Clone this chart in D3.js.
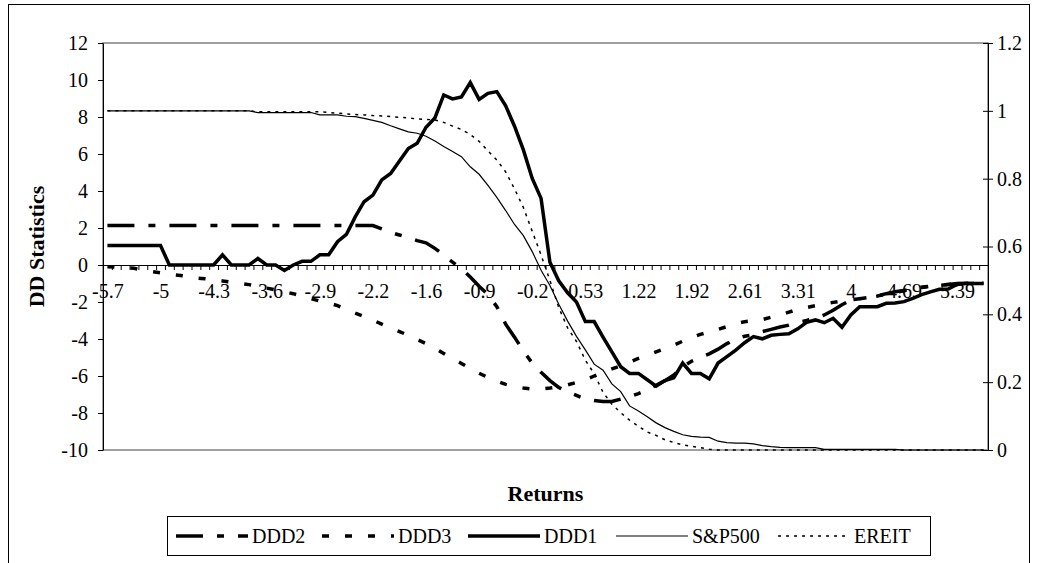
<!DOCTYPE html>
<html><head><meta charset="utf-8">
<script src="https://cdn.jsdelivr.net/npm/d3@7"></script>
<style>body{margin:0;background:#fff;}</style>
</head><body>
<script>
// ---------- DATA ----------
const returns = [-5.70,-5.58,-5.47,-5.35,-5.24,-5.12,-5.01,-4.89,-4.78,-4.66,-4.54,-4.43,-4.31,-4.20,-4.08,-3.97,-3.85,-3.74,-3.62,-3.51,
-3.39,-3.27,-3.16,-3.04,-2.93,-2.81,-2.70,-2.58,-2.47,-2.35,-2.23,-2.12,-2.00,-1.89,-1.77,-1.66,-1.54,-1.43,-1.31,-1.20,
-1.08,-0.96,-0.85,-0.73,-0.62,-0.50,-0.39,-0.27,-0.16,-0.04,0.08,0.19,0.31,0.42,0.53,0.65,0.77,0.88,1.00,1.11,
1.22,1.34,1.46,1.57,1.69,1.80,1.92,2.04,2.15,2.27,2.38,2.50,2.61,2.73,2.84,2.96,3.08,3.19,3.31,3.42,
3.54,3.65,3.77,3.88,4.00,4.11,4.23,4.35,4.46,4.58,4.69,4.81,4.92,5.04,5.15,5.27,5.39,5.50,5.62,5.73];
const xTickLabels = ["-5.7","-5","-4.3","-3.6","-2.9","-2.2","-1.6","-0.9","-0.2","0.53","1.22","1.92","2.61","3.31","4","4.69","5.39"];
const xTickEvery = 6;
const leftTicks = [-10,-8,-6,-4,-2,0,2,4,6,8,10,12];
const rightTicks = [0,0.2,0.4,0.6,0.8,1,1.2];

// DD statistics (left axis)
const DDD1 = [1.05,1.05,1.05,1.05,1.05,1.05,1.05,0,0,0,0,0,0,0.55,0,0,0,0.35,0,0,
-0.3,0,0.2,0.2,0.55,0.55,1.26,1.65,2.6,3.42,3.78,4.6,4.95,5.62,6.3,6.58,7.45,7.95,9.19,8.98,
9.08,9.86,8.95,9.28,9.37,8.6,7.5,6.22,4.68,3.6,0.15,-0.85,-1.5,-2.0,-3.06,-3.06,-3.9,-4.7,-5.5,-5.86,
-5.86,-6.2,-6.55,-6.25,-6.1,-5.3,-5.86,-5.86,-6.15,-5.3,-4.95,-4.6,-4.2,-3.87,-3.99,-3.8,-3.75,-3.72,-3.45,-3.1,
-2.97,-3.12,-2.88,-3.37,-2.7,-2.25,-2.25,-2.25,-2.07,-2.05,-1.98,-1.8,-1.6,-1.45,-1.31,-1.3,-1.05,-1.0,-1.0,-1.0];
const DDD2 = [2.13,2.13,2.13,2.13,2.13,2.13,2.13,2.13,2.13,2.13,2.13,2.13,2.13,2.13,2.13,2.13,2.13,2.13,2.13,2.13,
2.13,2.13,2.13,2.13,2.13,2.13,2.13,2.13,2.13,2.13,2.13,1.95,1.76,1.62,1.48,1.32,1.2,0.9,0.55,0.15,
-0.2,-0.65,-1.15,-1.6,-2.25,-3.2,-3.9,-4.65,-5.3,-5.8,-6.25,-6.62,-6.85,-7.05,-7.25,-7.32,-7.38,-7.38,-7.25,-7.12,
-6.95,-6.75,-6.5,-6.25,-5.95,-5.5,-5.2,-5.0,-4.8,-4.55,-4.25,-4.0,-3.85,-3.78,-3.6,-3.48,-3.35,-3.25,-3.1,-3.0,
-2.88,-2.7,-2.45,-2.15,-1.9,-1.82,-1.75,-1.68,-1.55,-1.45,-1.38,-1.3,-1.2,-1.15,-1.1,-1.05,-1.0,-0.99,-0.98,-0.98];
const DDD3 = [-0.09,-0.12,-0.15,-0.18,-0.27,-0.35,-0.42,-0.5,-0.55,-0.62,-0.7,-0.74,-0.8,-0.86,-0.93,-1.0,-1.06,-1.15,-1.25,-1.35,
-1.45,-1.55,-1.68,-1.82,-1.95,-2.05,-2.2,-2.4,-2.6,-2.78,-2.98,-3.2,-3.4,-3.6,-3.8,-4.03,-4.25,-4.5,-4.78,-5.05,
-5.32,-5.6,-5.85,-6.08,-6.28,-6.45,-6.58,-6.65,-6.7,-6.7,-6.65,-6.58,-6.48,-6.35,-6.2,-6.0,-5.8,-5.62,-5.45,-5.25,
-5.05,-4.88,-4.7,-4.52,-4.33,-4.12,-3.92,-3.75,-3.62,-3.48,-3.33,-3.17,-3.07,-3.0,-2.95,-2.82,-2.7,-2.55,-2.4,-2.3,
-2.2,-2.08,-2.02,-1.95,-1.89,-1.82,-1.75,-1.68,-1.58,-1.48,-1.4,-1.3,-1.22,-1.15,-1.08,-1.05,-1.02,-1.0,-1.0,-1.0];
// cumulative distributions (right axis)
const SP500 = [1,1,1,1,1,1,1,1,1,1,1,1,1,1,1,1,1,0.995,0.995,0.995,
0.995,0.995,0.995,0.995,0.988,0.988,0.988,0.984,0.983,0.978,0.972,0.966,0.956,0.947,0.938,0.934,0.925,0.911,0.895,0.88,
0.865,0.835,0.813,0.78,0.745,0.706,0.665,0.632,0.585,0.53,0.485,0.43,0.38,0.335,0.295,0.253,0.235,0.195,0.172,0.13,
0.115,0.098,0.08,0.066,0.055,0.045,0.04,0.038,0.037,0.026,0.022,0.02,0.02,0.018,0.013,0.01,0.008,0.007,0.007,0.007,
0.007,0.002,0.002,0.002,0.002,0.002,0.002,0.002,0.002,0.002,0,0,0,0,0,0,0,0,0,0];
const EREIT = [1,1,1,1,1,1,1,1,1,1,1,1,1,1,1,1,1,0.997,0.997,0.997,
0.997,0.997,0.997,0.997,0.997,0.995,0.993,0.991,0.989,0.988,0.986,0.985,0.983,0.981,0.979,0.976,0.975,0.973,0.966,0.955,
0.945,0.93,0.91,0.882,0.855,0.82,0.77,0.715,0.645,0.575,0.5,0.42,0.36,0.32,0.265,0.225,0.17,0.135,0.11,0.088,
0.07,0.053,0.043,0.03,0.022,0.015,0.011,0.007,0.002,0,0,0,0,0,0,0,0,0,0,0,
0,0,0,0,0,0,0,0,0,0,0,0,0,0,0,0,0,0,0,0];

const seriesNames = ["DDD2","DDD3","DDD1","S&P500","EREIT"];

// ---------- CHART ----------
const W = 1037, H = 563;
const L = 103, R = 988, T = 43, B = 450;
const FONT = "'Liberation Serif', 'Times New Roman', Times, serif";
const svg = d3.select("body").append("svg").attr("width", W).attr("height", H)
  .attr("font-family", FONT);

svg.append("rect").attr("x", 8.5).attr("y", 4.5).attr("width", 1021).attr("height", 600)
  .attr("fill", "none").attr("stroke", "#000").attr("stroke-width", 1);

const x = d3.scaleLinear().domain([0, returns.length]).range([L, R]);
const yL = d3.scaleLinear().domain([-10, 12]).range([B, T]);
const yR = d3.scaleLinear().domain([0, 1.2]).range([B, T]);

// plot area border
svg.append("rect").attr("x", L).attr("y", T).attr("width", R - L).attr("height", B - T)
  .attr("fill", "none").attr("stroke", "#808080").attr("stroke-width", 1.5);

const fs = 20;
function styleText(sel) {
  sel.attr("font-family", FONT).attr("font-size", fs).attr("fill", "#000");
}
// left axis
const gl = svg.append("g").attr("transform", `translate(${L},0)`)
  .call(d3.axisLeft(yL).tickValues(leftTicks).tickSize(5).tickSizeOuter(0).tickPadding(10).tickFormat(d => String(d)));
gl.attr("font-family", FONT);
styleText(gl.selectAll("text"));
gl.selectAll("path,line").attr("stroke", "#000");
// right axis
const gr = svg.append("g").attr("transform", `translate(${R},0)`)
  .call(d3.axisRight(yR).tickValues(rightTicks).tickSize(5).tickSizeOuter(0).tickPadding(4).tickFormat(d => String(+d.toFixed(1))));
gr.attr("font-family", FONT);
styleText(gr.selectAll("text"));
gr.selectAll("path,line").attr("stroke", "#000");
gr.selectAll(".tick line").attr("x1", -5);

// x axis at y=0
const y0 = yL(0);
const gx = svg.append("g").attr("transform", `translate(0,${y0})`)
  .call(d3.axisBottom(x).tickValues(d3.range(0, returns.length + 1)).tickSize(5).tickSizeOuter(0).tickFormat(""));
gx.selectAll("path,line").attr("stroke", "#000");
const labIdx = xTickLabels.map((_, k) => k * xTickEvery);
const gxl = svg.append("g").attr("transform", `translate(0,${y0})`)
  .call(d3.axisBottom(x).tickValues(labIdx.map(i => i + 0.5)).tickSize(0).tickPadding(0)
    .tickFormat((d, k) => xTickLabels[k]));
gxl.attr("font-family", FONT);
gxl.select(".domain").remove();
styleText(gxl.selectAll("text"));
gxl.selectAll("text").attr("y", 33).attr("dy", 0);

// axis titles
svg.append("text").attr("transform", `translate(44,${(T + B) / 2}) rotate(-90)`)
  .attr("text-anchor", "middle").attr("font-family", FONT).attr("font-size", 22).attr("font-weight", "bold").text("DD Statistics");
svg.append("text").attr("x", (L + R) / 2).attr("y", 501)
  .attr("text-anchor", "middle").attr("font-family", FONT).attr("font-size", 22).attr("font-weight", "bold").text("Returns");

// series
const styles = {
  "DDD2": {w: 3.5, dash: "27,14,7,14"},
  "DDD3": {w: 3.5, dash: "7,16"},
  "DDD1": {w: 3.5, dash: null},
  "S&P500": {w: 1.2, dash: null},
  "EREIT": {w: 1.5, dash: "3,5"}
};
const seriesData = [
  {name: "DDD2", vals: DDD2, y: yL},
  {name: "DDD3", vals: DDD3, y: yL},
  {name: "DDD1", vals: DDD1, y: yL},
  {name: "S&P500", vals: SP500, y: yR},
  {name: "EREIT", vals: EREIT, y: yR}
];
const plot = svg.append("g");
seriesData.forEach(s => {
  const line = d3.line().x((d, i) => x(i + 0.5)).y(d => s.y(d));
  const st = styles[s.name];
  plot.append("path").attr("d", line(s.vals)).attr("fill", "none").attr("stroke", "#000")
    .attr("stroke-width", st.w).attr("stroke-dasharray", st.dash).attr("stroke-linejoin", "miter");
});

// legend
const lg = svg.append("g");
lg.append("rect").attr("x", 167.5).attr("y", 516.5).attr("width", 763).attr("height", 39)
  .attr("fill", "#fff").attr("stroke", "#000").attr("stroke-width", 1);
const legX = [176, 322, 468, 616, 778];
const legY = 536;
seriesNames.forEach((n, k) => {
  const st = styles[n];
  lg.append("line").attr("x1", legX[k]).attr("x2", legX[k] + 72).attr("y1", legY).attr("y2", legY)
    .attr("stroke", "#000").attr("stroke-width", st.w).attr("stroke-dasharray", st.dash);
  lg.append("text").attr("x", legX[k] + 76).attr("y", legY).attr("dy", "0.35em")
    .attr("font-family", FONT).attr("font-size", fs).text(n);
});
</script>
</body></html>
